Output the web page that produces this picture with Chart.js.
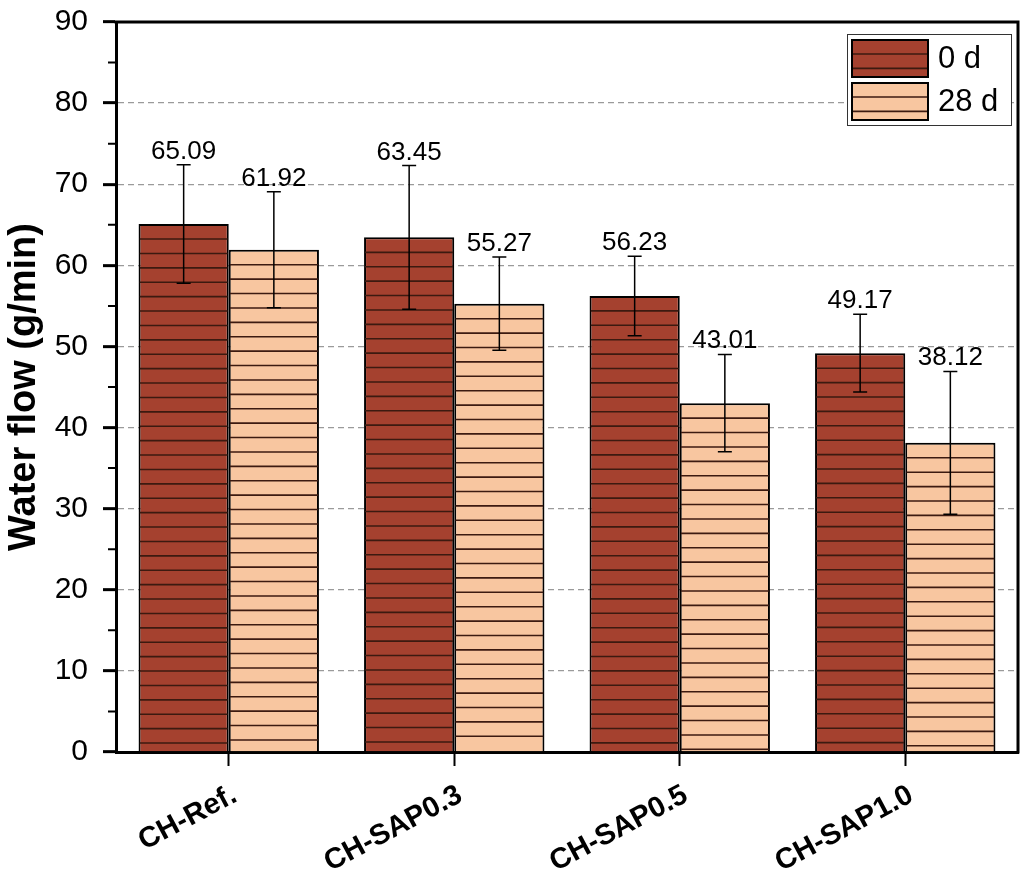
<!DOCTYPE html>
<html>
<head>
<meta charset="utf-8">
<script src="https://cdn.jsdelivr.net/npm/chart.js@4.4.0/dist/chart.umd.min.js"></script>
<style>
  html, body { margin: 0; padding: 0; background: #fff; }
</style>
</head>
<body>
<canvas id="bar-chart" width="1024" height="889"></canvas>
<script>
// 데이터
var categories = ["CH-Ref.", "CH-SAP0.3", "CH-SAP0.5", "CH-SAP1.0"];
var seriesNames = ["0 d", "28 d"];
var flow0d = [65.09, 63.45, 56.23, 49.17];
var flow28d = [61.92, 55.27, 43.01, 38.12];
var err0d = [7.3, 8.85, 4.9, 4.8];
var err28d = [7.15, 5.75, 6.0, 8.8];
var yMin = 0;
var yMax = 90;
var yStep = 10;

var FONT = "'Liberation Sans', Arial, sans-serif";
var colors = ["#a5412f", "#f8c6a0"];
var hatchColor = "#3c1a10";

// 가로 해칭 그리기
function drawHatch(ctx, left, top, right, bottom) {
  ctx.save();
  ctx.beginPath();
  ctx.rect(left, top, right - left, bottom - top);
  ctx.clip();
  ctx.strokeStyle = hatchColor;
  ctx.lineWidth = 1.6;
  ctx.beginPath();
  for (var y = top + 14; y < bottom; y += 14.4) {
    ctx.moveTo(left, y);
    ctx.lineTo(right, y);
  }
  ctx.stroke();
  ctx.restore();
}

// 해칭, 에러바, 값 라벨, 테두리
var decoPlugin = {
  id: "deco",
  afterDatasetsDraw: function (chart) {
    var ctx = chart.ctx;
    var yScale = chart.scales.y;
    var area = chart.chartArea;

    chart.data.datasets.forEach(function (ds, i) {
      var meta = chart.getDatasetMeta(i);
      meta.data.forEach(function (bar) {
        var p = bar.getProps(["x", "y", "base", "width"], true);
        drawHatch(ctx, p.x - p.width / 2 + 1, p.y + 1, p.x + p.width / 2 - 1, p.base - 1);
      });
    });

    chart.data.datasets.forEach(function (ds, i) {
      var meta = chart.getDatasetMeta(i);
      meta.data.forEach(function (bar, j) {
        var p = bar.getProps(["x", "y", "base", "width"], true);
        var v = ds.data[j];
        var e = ds.errors[j];
        var yTop = yScale.getPixelForValue(v + e);
        var yBot = yScale.getPixelForValue(v - e);
        ctx.save();
        ctx.strokeStyle = "#000";
        ctx.lineWidth = 1.5;
        ctx.beginPath();
        ctx.moveTo(p.x, yTop);
        ctx.lineTo(p.x, yBot);
        ctx.moveTo(p.x - 7, yTop);
        ctx.lineTo(p.x + 7, yTop);
        ctx.moveTo(p.x - 7, yBot);
        ctx.lineTo(p.x + 7, yBot);
        ctx.stroke();

        ctx.fillStyle = "#000";
        ctx.font = "26px " + FONT;
        ctx.textAlign = "center";
        ctx.textBaseline = "alphabetic";
        ctx.fillText(v.toFixed(2), p.x, yTop - 6);
        ctx.restore();
      });
    });

    // 위쪽, 오른쪽 테두리
    ctx.save();
    ctx.strokeStyle = "#000";
    ctx.lineWidth = 3;
    ctx.beginPath();
    ctx.moveTo(area.left - 1.5, area.top);
    ctx.lineTo(area.right, area.top);
    ctx.lineTo(area.right, area.bottom + 1.5);
    ctx.stroke();

    // 보조 눈금
    ctx.lineWidth = 2;
    ctx.beginPath();
    for (var m = yMin + yStep / 2; m < yMax; m += yStep) {
      var my = yScale.getPixelForValue(m);
      ctx.moveTo(area.left - 8, my);
      ctx.lineTo(area.left, my);
    }
    ctx.stroke();
    ctx.restore();
  },
  afterDraw: function (chart) {
    // 범례
    var ctx = chart.ctx;
    var bx = 847, by = 34, bw = 164, bh = 91;
    ctx.save();
    ctx.fillStyle = "#fff";
    ctx.fillRect(bx, by, bw, bh);
    ctx.strokeStyle = "#333";
    ctx.lineWidth = 1;
    ctx.strokeRect(bx + 0.5, by + 0.5, bw, bh);
    chart.data.datasets.forEach(function (ds, i) {
      var sx = 852, sy = 40 + i * 43, sw = 76, sh = 37;
      ctx.fillStyle = ds.backgroundColor;
      ctx.fillRect(sx, sy, sw, sh);
      drawHatch(ctx, sx, sy, sx + sw, sy + sh);
      ctx.strokeStyle = "#000";
      ctx.lineWidth = 2;
      ctx.strokeRect(sx, sy, sw, sh);
      ctx.fillStyle = "#000";
      ctx.font = "31px " + FONT;
      ctx.textAlign = "left";
      ctx.textBaseline = "middle";
      ctx.fillText(ds.label, 938, sy + sh / 2 + 1);
    });
    ctx.restore();
  },
};

new Chart(document.getElementById("bar-chart"), {
  type: "bar",
  data: {
    labels: categories,
    datasets: [
      {
        label: seriesNames[0],
        data: flow0d,
        errors: err0d,
        backgroundColor: colors[0],
        borderColor: "#000",
        borderWidth: 2,
      },
      {
        label: seriesNames[1],
        data: flow28d,
        errors: err28d,
        backgroundColor: colors[1],
        borderColor: "#000",
        borderWidth: 2,
      },
    ],
  },
  options: {
    responsive: false,
    animation: false,
    devicePixelRatio: 1,
    layout: { padding: { top: 22, right: 6, left: 0, bottom: 0 } },
    datasets: { bar: { categoryPercentage: 0.8, barPercentage: 1.0 } },
    plugins: {
      legend: { display: false },
      tooltip: { enabled: false },
    },
    scales: {
      x: {
        offset: true,
        grid: {
          offset: false,
          drawOnChartArea: false,
          tickLength: 14,
          tickWidth: 2,
          tickColor: "#000",
        },
        border: { color: "#000", width: 3 },
        ticks: {
          color: "#000",
          font: { family: FONT, size: 29, weight: "bold" },
          minRotation: 28,
          maxRotation: 28,
          padding: 12,
          labelOffset: 6,
        },
        afterFit: function (scale) {
          scale.height = 137;
          scale.paddingLeft = 0;
          scale.paddingRight = 0;
        },
      },
      y: {
        min: yMin,
        max: yMax,
        ticks: {
          stepSize: yStep,
          color: "#000",
          font: { family: FONT, size: 30 },
          padding: 15,
        },
        grid: {
          color: function (c) {
            var v = c.tick ? c.tick.value : 0;
            return v === yMin || v === yMax ? "rgba(0,0,0,0)" : "#9a9a9a";
          },
          lineWidth: 1.3,
          tickLength: 13,
          tickWidth: 3,
          tickColor: "#000",
        },
        border: { color: "#000", width: 3, dash: [6, 4] },
        title: {
          display: true,
          text: "Water flow (g/min)",
          color: "#000",
          font: { family: FONT, size: 38, weight: "bold" },
          padding: { top: 2, bottom: 0 },
        },
        afterFit: function (scale) {
          scale.width = 116;
          scale.paddingTop = 0;
          scale.paddingBottom = 0;
        },
      },
    },
  },
  plugins: [decoPlugin],
});
</script>
</body>
</html>
